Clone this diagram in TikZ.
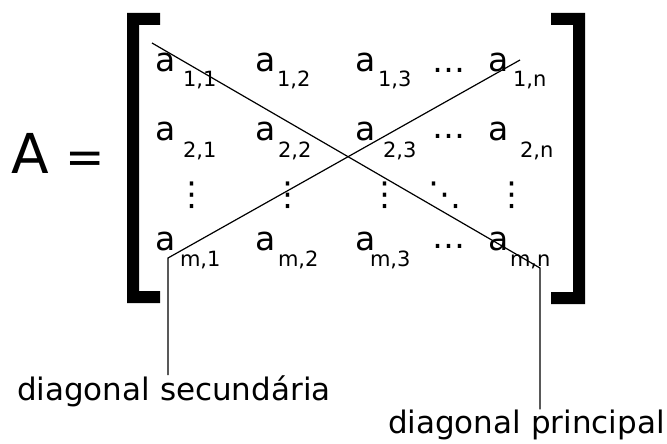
\documentclass[tikz,border=0pt]{standalone}
\usepackage{fontspec}
\setmainfont{DejaVu Sans}
\begin{document}
\begin{tikzpicture}[x=1pt,y=-1pt,
  txt/.style={inner sep=0pt,outer sep=0pt,anchor=base west},
  ent/.style={txt,font=\fontsize{33}{33}\selectfont},
  sub/.style={txt,font=\fontsize{21}{21}\selectfont},
  dots/.style={inner sep=0pt,outer sep=0pt,anchor=center,font=\fontsize{33}{33}\selectfont},
  lbl/.style={txt,font=\fontsize{31}{31}\selectfont},
  diag/.style={draw=black,line width=1.2pt,line join=miter}]
\useasboundingbox (0,0) rectangle (667,444);
% A =
\node[txt,font=\fontsize{55}{55}\selectfont] (A) at (11,173) {A};
\node[txt,font=\fontsize{47}{47}\selectfont] (eq) at (65,173) {=};
% brackets
\fill[black] (160,13) -- (127,13) -- (127,303) -- (160,303) -- (160,291) -- (139,291) -- (139,25) -- (160,25) -- cycle;
\fill[black] (551,13) -- (585,13) -- (585,304) -- (551,304) -- (551,292) -- (573,292) -- (573,25) -- (551,25) -- cycle;
% entries row 1
\node[ent] (a11) at (155,72) {a};
\node[sub] (s11) at (183,87) {1,1};
\node[ent] (a12) at (255,72) {a};
\node[sub] (s12) at (277,87) {1,2};
\node[ent] (a13) at (355,72) {a};
\node[sub] (s13) at (378,87) {1,3};
\node[dots] (h1) at (449,70) {…};
\node[ent] (a1n) at (488,72) {a};
\node[sub] (s1n) at (513,87) {1,n};
% row 2
\node[ent] (a21) at (155,140) {a};
\node[sub] (s21) at (183,157) {2,1};
\node[ent] (a22) at (255,140) {a};
\node[sub] (s22) at (278,157) {2,2};
\node[ent] (a23) at (355,140) {a};
\node[sub] (s23) at (383,157) {2,3};
\node[dots] (h2) at (449,136) {…};
\node[ent] (a2n) at (488,140) {a};
\node[sub] (s2n) at (520,157) {2,n};
% vertical dots row
\node[dots] (v1) at (192,195) {⋮};
\node[dots] (v2) at (288,195) {⋮};
\node[dots] (v3) at (385,195) {⋮};
\node[dots] (dd) at (445,195) {⋱};
\node[dots] (vn) at (512,195) {⋮};
% row m
\node[ent] (am1) at (155,250) {a};
\node[sub] (sm1) at (180,266) {m,1};
\node[ent] (am2) at (255,250) {a};
\node[sub] (sm2) at (278,266) {m,2};
\node[ent] (am3) at (355,250) {a};
\node[sub] (sm3) at (370,266) {m,3};
\node[dots] (hm) at (449,246) {…};
\node[ent] (amn) at (488,250) {a};
\node[sub] (smn) at (510,266) {m,n};
% labels
\node[lbl] (sec) at (17,400) {diagonal secundária};
\node[lbl] (pri) at (388,433) {diagonal principal};
% diagonals
\coordinate (p0) at (152,43);
\coordinate (p1) at (540,268);
\coordinate (q0) at (520,60);
\coordinate (q1) at (168,258);
\draw[diag] (p0) -- (p1) -- (p1 |- pri.north);
\draw[diag] (q0) -- (q1) -- (q1 |- sec.north);
\end{tikzpicture}
\end{document}
